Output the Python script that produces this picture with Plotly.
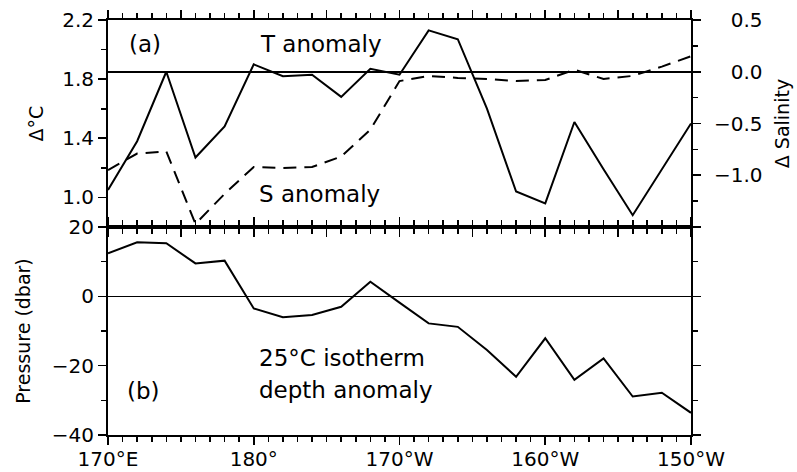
import plotly.graph_objects as go

# Longitude in degrees east (170E .. 210E = 150W)
lon = [170, 172, 174, 176, 178, 180, 182, 184, 186, 188, 190,
       192, 194, 196, 198, 200, 202, 204, 206, 208, 210]

t_anom = [1.05, 1.38, 1.85, 1.27, 1.48, 1.90, 1.82, 1.83, 1.68, 1.87, 1.83,
          2.13, 2.07, 1.60, 1.04, 0.96, 1.51, 1.19, 0.88, 1.19, 1.50]

s_anom = [-0.95, -0.79, -0.77, -1.47, -1.18, -0.92, -0.93, -0.92, -0.82, -0.56, -0.09,
          -0.04, -0.06, -0.07, -0.09, -0.08, 0.02, -0.07, -0.04, 0.05, 0.15]

p_anom = [12.4, 15.6, 15.3, 9.5, 10.3, -3.5, -6.0, -5.4, -3.0, 4.2, -1.8,
          -7.8, -8.8, -15.5, -23.2, -12.1, -24.1, -17.9, -28.9, -27.8, -33.6]

x_tickvals = [170, 175, 180, 185, 190, 195, 200, 205, 210]
x_ticktext = ["170°E", "", "180°", "", "170°W", "", "160°W", "", "150°W"]
x_minorvals = list(range(170, 211))

t_tickvals = [1.0, 1.4, 1.8, 2.2]
t_ticktext = ["1.0", "1.4", "1.8", "2.2"]
t_minorvals = [0.8, 1.2, 1.6, 2.0]
s_tickvals = [-1.0, -0.5, 0.0, 0.5]
s_ticktext = ["\u22121.0", "\u22120.5", "\u2007\u20090.0", "\u2007\u20090.5"]
s_minorvals = [-1.25, -0.75, -0.25, 0.25]
p_tickvals = [-40, -20, 0, 20]
p_ticktext = ["\u221240", "\u221220", "0", "20"]
p_minorvals = [-30, -10, 10]

FONT = "DejaVu Sans"
W, H = 797, 472
L, R, T, B = 108, 106, 20, 37
split = (435 - 227) / (435 - 20)

fig = go.Figure()
fig.add_trace(go.Scatter(x=lon, y=t_anom, mode="lines", xaxis="x2", yaxis="y",
                         line=dict(color="black", width=2), showlegend=False))
fig.add_trace(go.Scatter(x=lon, y=s_anom, mode="lines", xaxis="x2", yaxis="y3",
                         line=dict(color="black", width=2, dash="13px,8px"), showlegend=False))
fig.add_trace(go.Scatter(x=lon, y=p_anom, mode="lines", xaxis="x", yaxis="y2",
                         line=dict(color="black", width=2), showlegend=False))

def minor(vals):
    return dict(tickmode="array", tickvals=vals, ticks="outside", ticklen=5,
                tickcolor="black", tickwidth=1.6)

axcommon = dict(showline=True, linecolor="black", linewidth=2, ticks="outside",
                tickcolor="black", tickwidth=1.6, showgrid=False, automargin=False,
                tickfont=dict(family=FONT, size=20, color="black"))
tfont = dict(family=FONT, size=19, color="black")

fig.update_layout(
    width=W, height=H,
    margin=dict(l=L, r=R, t=T, b=B, autoexpand=False),
    paper_bgcolor="white", plot_bgcolor="white",
    font=dict(family=FONT, size=19, color="black"),
    hovermode=False,
    xaxis=dict(**axcommon, domain=[0, 1], anchor="y2", range=[170, 210],
               tickmode="array", tickvals=x_tickvals, ticktext=x_ticktext,
               ticklen=8, ticklabelstandoff=-3, mirror="ticks", zeroline=False,
               minor=minor(x_minorvals)),
    xaxis2=dict(**axcommon, domain=[0, 1], anchor="y", matches="x", range=[170, 210],
                tickmode="array", tickvals=x_tickvals, showticklabels=False,
                ticklen=8, mirror="ticks", zeroline=False, minor=minor(x_minorvals)),
    yaxis=dict(**axcommon, domain=[split, 1], anchor="x2", range=[0.8, 2.2],
               tickmode="array", tickvals=t_tickvals, ticktext=t_ticktext,
               ticklen=8, zeroline=False, minor=minor(t_minorvals),
               title=dict(text="Δ°C", standoff=14, font=tfont)),
    yaxis3=dict(**axcommon, overlaying="y", side="right", anchor="x2",
                range=[-1.5, 0.5], tickmode="array", tickvals=s_tickvals,
                ticktext=s_ticktext, ticklen=8, ticklabelstandoff=9,
                zeroline=True, zerolinecolor="black", zerolinewidth=1.6,
                minor=minor(s_minorvals),
                title=dict(text="Δ Salinity", standoff=14, font=tfont)),
    yaxis2=dict(**axcommon, domain=[0, split], anchor="x", range=[-40, 20],
                tickmode="array", tickvals=p_tickvals, ticktext=p_ticktext,
                ticklen=8, mirror="ticks",
                zeroline=True, zerolinecolor="black", zerolinewidth=1.6,
                minor=minor(p_minorvals),
                title=dict(text="Pressure (dbar)", standoff=16, font=tfont)),
)

def px2paper(px, py):
    return (px - L) / (W - L - R), (H - B - py) / (H - T - B)

ann = [
    ("(a)", 127, 44, "left"),
    ("T anomaly", 258, 44, "left"),
    ("S anomaly", 257, 194, "left"),
    ("(b)", 125, 391, "left"),
    ("25°C isotherm", 257, 358, "left"),
    ("depth anomaly", 257, 390, "left"),
]
for txt, px, py, xa in ann:
    ax_, ay_ = px2paper(px, py)
    fig.add_annotation(text=txt, x=ax_, y=ay_, xref="paper", yref="paper",
                       xanchor=xa, yanchor="middle", showarrow=False,
                       font=dict(family=FONT, size=23, color="black"))

fig.write_html("out.html", config={"displayModeBar": False, "staticPlot": True},
               post_script="document.body.style.margin='0px';"
                           "document.body.style.overflow='hidden';")
